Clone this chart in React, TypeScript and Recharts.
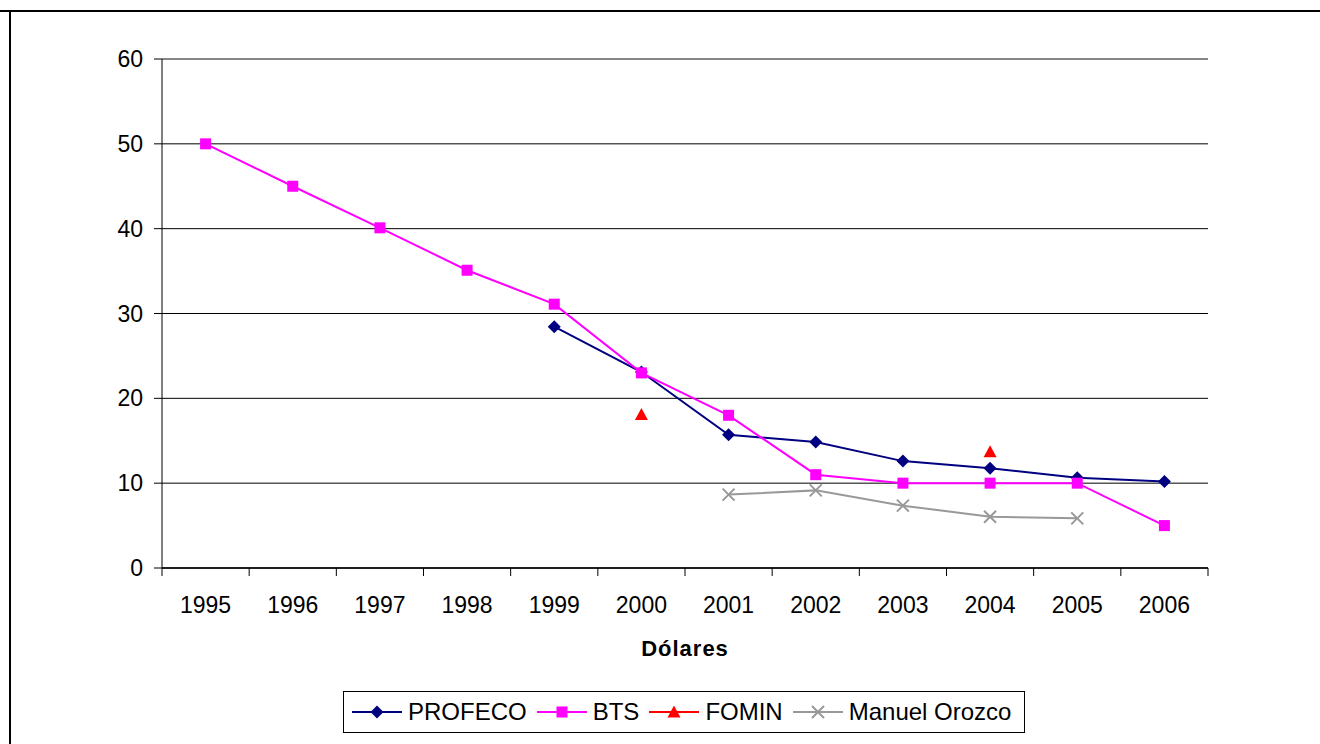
import { LineChart, Line, XAxis, YAxis, CartesianGrid, ReferenceLine, Legend } from 'recharts'

const years = ['1995', '1996', '1997', '1998', '1999', '2000', '2001', '2002', '2003', '2004', '2005', '2006']
const profeco = [null, null, null, null, 28.45, 23.1, 15.7, 14.85, 12.6, 11.75, 10.65, 10.2]
const bts = [50, 45, 40.1, 35.1, 31.1, 23, 18, 11, 10, 10, 10, 5]
const fomin = [null, null, null, null, null, 18.1, null, null, null, 13.7, null, null]
const orozco = [null, null, null, null, null, null, 8.65, 9.15, 7.35, 6.05, 5.85, null]
const yTicks = [0, 10, 20, 30, 40, 50, 60]

const data = years.map((y, i) => ({
  year: y,
  profeco: profeco[i],
  bts: bts[i],
  fomin: fomin[i],
  orozco: orozco[i],
}))

const FONT = '"Liberation Sans", Arial, sans-serif'

type Kind = 'diamond' | 'square' | 'triangle' | 'cross'

function Marker({ kind, x, y, color }: { kind: Kind; x: number; y: number; color: string }) {
  if (kind === 'diamond') {
    return <path d={`M${x},${y - 6.5}L${x + 6.5},${y}L${x},${y + 6.5}L${x - 6.5},${y}Z`} fill={color} />
  }
  if (kind === 'square') {
    return <rect x={x - 5.5} y={y - 5.5} width={11} height={11} fill={color} />
  }
  if (kind === 'triangle') {
    return <path d={`M${x},${y - 6.5}L${x + 6.5},${y + 5.5}L${x - 6.5},${y + 5.5}Z`} fill={color} />
  }
  return (
    <path d={`M${x - 6},${y - 6}L${x + 6},${y + 6}M${x + 6},${y - 6}L${x - 6},${y + 6}`}
      stroke={color} strokeWidth={2} fill="none" />
  )
}

const dotFor = (kind: Kind, color: string) => (p: any) => {
  const { cx, cy, index, value } = p
  if (value == null || cy == null || isNaN(cy)) return <g key={`${kind}-${index}`} />
  return <Marker key={`${kind}-${index}`} kind={kind} x={cx} y={cy} color={color} />
}

const series: { key: string; name: string; color: string; kind: Kind }[] = [
  { key: 'profeco', name: 'PROFECO', color: '#000080', kind: 'diamond' },
  { key: 'bts', name: 'BTS', color: '#ff00ff', kind: 'square' },
  { key: 'fomin', name: 'FOMIN', color: '#ff0000', kind: 'triangle' },
  { key: 'orozco', name: 'Manuel Orozco', color: '#999999', kind: 'cross' },
]

// category tick: label plus a short tick mark at the band edges
function YearTick(props: any) {
  const { x, y, payload, index } = props
  const off = payload.offset || 0
  const last = index === years.length - 1
  return (
    <g>
      <line x1={x - off} y1={y} x2={x - off} y2={y + 8} stroke="#000" strokeWidth={1} />
      {last && <line x1={x + off} y1={y} x2={x + off} y2={y + 8} stroke="#000" strokeWidth={1} />}
      <text x={x} y={y + 45} textAnchor="middle" fontSize={23} fill="#000" fontFamily={FONT}>
        {payload.value}
      </text>
    </g>
  )
}

function LegendBox() {
  return (
    <div style={{
      border: '1px solid #000', display: 'flex', alignItems: 'center', height: 42, width: 682,
      padding: '0 0 0 8px', fontFamily: FONT, fontSize: 24, color: '#000', boxSizing: 'border-box',
    }}>
      {series.map(s => (
        <div key={s.key} style={{ display: 'flex', alignItems: 'center', marginRight: 10 }}>
          <svg width={50} height={20} style={{ marginRight: 6 }}>
            <line x1={0} y1={10} x2={50} y2={10} stroke={s.color} strokeWidth={2} />
            <Marker kind={s.kind} x={25} y={10} color={s.color} />
          </svg>
          <span>{s.name}</span>
        </div>
      ))}
    </div>
  )
}

export default function App() {
  return (
    <div style={{ position: 'absolute', left: 0, top: 0, width: 1320, height: 744, background: '#fff', overflow: 'hidden' }}>
      <div style={{ position: 'absolute', left: 0, top: 10, width: 1320, height: 2, background: '#000' }} />
      <div style={{ position: 'absolute', left: 9, top: 10, width: 2, height: 734, background: '#000' }} />
      <LineChart width={1320} height={744} data={data}
        margin={{ top: 59, right: 112, bottom: 76, left: 102 }}>
        <CartesianGrid horizontal vertical={false} stroke="#000" strokeWidth={1} />
        <XAxis dataKey="year" scale="band" height={100} interval={0}
          axisLine={{ stroke: '#000', strokeWidth: 1.5 }} tickLine={false} tickSize={0} tickMargin={0}
          tick={<YearTick />}
          label={{ value: 'Dólares', position: 'insideBottom', offset: 12, fontSize: 22, fontWeight: 700, fill: '#000', fontFamily: FONT, letterSpacing: 1 }} />
        <YAxis domain={[0, 60]} ticks={yTicks} width={60} tickSize={8} tickMargin={11}
          stroke="#000" tick={{ fontSize: 23, fill: '#000', fontFamily: FONT }} interval={0} />
        <YAxis yAxisId="right" orientation="right" width={0} tick={false} tickLine={false}
          axisLine={{ stroke: '#888', strokeWidth: 2 }} />
        <ReferenceLine y={60} stroke="#888" strokeWidth={1.5} />
        {series.map(s => (
          <Line key={s.key} dataKey={s.key} name={s.name} stroke={s.color} strokeWidth={2}
            dot={dotFor(s.kind, s.color)} activeDot={false} isAnimationActive={false} connectNulls={false} />
        ))}
        <Legend layout="horizontal" verticalAlign="middle" align="center"
          wrapperStyle={{ left: 343, top: 691, width: 682 }} content={() => <LegendBox />} />
      </LineChart>
    </div>
  )
}
